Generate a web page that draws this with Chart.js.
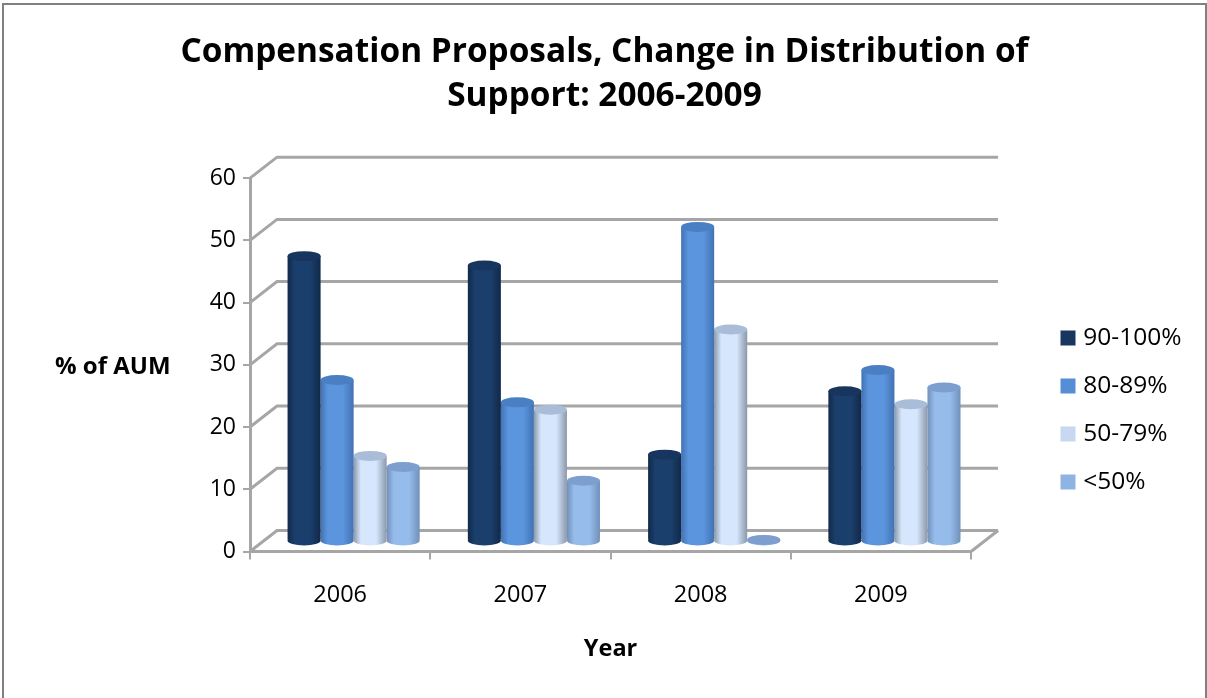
<!DOCTYPE html>
<html>
<head>
<meta charset="utf-8">
<style>
  html, body { margin: 0; padding: 0; background: #fff; }
  canvas { display: block; }
</style>
<script src="https://cdn.jsdelivr.net/npm/chart.js@4"></script>
</head>
<body>
<canvas id="chart" width="1207" height="698"></canvas>
<script>
const years = ['2006', '2007', '2008', '2009'];
const band90 = [45.7, 44.2, 13.8, 24];
const band80 = [25.8, 22.2, 50.4, 27.4];
const band50 = [13.6, 21, 33.9, 21.9];
const bandLow = [11.8, 9.6, 0.1, 24.6];
const yTicks = [0, 10, 20, 30, 40, 50, 60];

const lineGray = '#a6a6a6';
const fontName = '"Open Sans", sans-serif';
// 3D look: how far the back wall and the bars sit from the front axes
const wallX = 27, wallY = -21, barX = 13.5, barY = -11;
const capRy = 5;

// edge, middle and cap colours per series
const shades = [
  { edge: '#11294a', mid: '#1b3f6c', cap: '#17355f', flat: '#17375e' },
  { edge: '#4272b2', mid: '#5b95de', cap: '#4a7fc4', flat: '#558ed5' },
  { edge: '#8b98aa', mid: '#d6e6fd', cap: '#a9bdd8', flat: '#c6d9f1' },
  { edge: '#7090b8', mid: '#96bcec', cap: '#7c9fcf', flat: '#8eb4e3' }
];

function bodyGradient(ctx, x, half, s) {
  const g = ctx.createLinearGradient(x - half, 0, x + half, 0);
  g.addColorStop(0, s.edge);
  g.addColorStop(0.22, s.mid);
  g.addColorStop(0.68, s.mid);
  g.addColorStop(1, s.edge);
  return g;
}

function barFill(c) {
  const chart = c.chart;
  if (!chart.chartArea) return shades[c.datasetIndex].flat;
  const xs = chart.scales.x;
  const w = xs.width / years.length * 0.733 / 4;
  const x = xs.getPixelForValue(c.dataIndex) + (c.datasetIndex - 1.5) * w;
  return bodyGradient(chart.ctx, x, w / 2, shades[c.datasetIndex]);
}

const chartDress = {
  id: 'chartDress',
  afterLayout(chart) {
    // legend and title sit on the full page, not on what the layout left them
    const lg = chart.legend;
    const dx = 1041.5 - lg.left, dy = 61 - lg.top;
    lg.left += dx; lg.right += dx; lg.top += dy; lg.bottom += dy;
    chart.titleBlock.left += 44;
    chart.titleBlock.right += 44;
  },
  beforeDraw(chart) {
    const ctx = chart.ctx;
    ctx.save();
    ctx.strokeStyle = '#808080';
    ctx.lineWidth = 2;
    ctx.strokeRect(3, 4, 1203, 720);
    ctx.fillStyle = '#000';
    ctx.font = 'bold 24px ' + fontName;
    ctx.textBaseline = 'middle';
    ctx.fillText('% of AUM', 55, 367.5);
    ctx.restore();
  },
  beforeDatasetsDraw(chart) {
    const ctx = chart.ctx;
    const { left, right } = chart.chartArea;
    const ys = chart.scales.y;
    ctx.save();
    ctx.strokeStyle = lineGray;
    ctx.lineWidth = 3;
    yTicks.forEach(v => {
      const y = ys.getPixelForValue(v);
      ctx.beginPath();
      ctx.moveTo(left, y);
      ctx.lineTo(left + wallX, y + wallY);
      ctx.lineTo(right + wallX, y + wallY);
      ctx.stroke();
    });
    const y0 = ys.getPixelForValue(0);
    ctx.beginPath();
    ctx.moveTo(right, y0);
    ctx.lineTo(right + wallX, y0 + wallY);
    ctx.stroke();
    ctx.restore();
    ctx.save();
    ctx.translate(barX, barY);
  },
  afterDatasetDraw(chart, args) {
    const ctx = chart.ctx;
    const s = shades[args.index];
    const y0 = chart.scales.y.getPixelForValue(0);
    args.meta.data.forEach(bar => {
      const half = bar.width / 2;
      ctx.save();
      ctx.fillStyle = bodyGradient(ctx, bar.x, half, s);
      ctx.beginPath();
      ctx.ellipse(bar.x, y0, half, capRy, 0, 0, Math.PI * 2);
      ctx.fill();
      ctx.fillStyle = s.cap;
      ctx.beginPath();
      ctx.ellipse(bar.x, bar.y, half, capRy, 0, 0, Math.PI * 2);
      ctx.fill();
      ctx.restore();
    });
  },
  afterDatasetsDraw(chart) {
    chart.ctx.restore();
  }
};

new Chart(document.getElementById('chart'), {
  type: 'bar',
  plugins: [chartDress],
  data: {
    labels: years,
    datasets: [
      { label: '90-100%', data: band90 },
      { label: '80-89%', data: band80 },
      { label: '50-79%', data: band50 },
      { label: '<50%', data: bandLow }
    ].map(d => ({ ...d, backgroundColor: barFill, borderWidth: 0, clip: false }))
  },
  options: {
    responsive: false,
    animation: false,
    categoryPercentage: 0.733,
    barPercentage: 1,
    layout: { padding: { left: 0, top: 0, right: 86, bottom: 0 } },
    plugins: {
      tooltip: { enabled: false },
      title: {
        display: true,
        text: ['Compensation Proposals, Change in Distribution of', 'Support: 2006-2009'],
        color: '#000',
        font: { family: fontName, size: 33.4, weight: 'bold', lineHeight: 1.32 },
        padding: { top: 30, bottom: 60 }
      },
      legend: {
        position: 'right',
        labels: {
          usePointStyle: true,
          pointStyle: 'rect',
          boxWidth: 6,
          boxHeight: 15,
          padding: 23.5,
          color: '#000',
          font: { family: fontName, size: 24.5 },
          generateLabels(chart) {
            return chart.data.datasets.map((d, i) => ({
              text: d.label,
              fillStyle: shades[i].flat,
              strokeStyle: shades[i].flat,
              lineWidth: 0,
              pointStyle: 'rect',
              datasetIndex: i
            }));
          }
        }
      }
    },
    scales: {
      x: {
        afterFit(scale) { scale.height = 146.5; },
        grid: { offset: true, drawOnChartArea: false, color: lineGray, lineWidth: 2, tickLength: 8 },
        border: { color: lineGray, width: 3 },
        ticks: { color: '#000', padding: 22, font: { family: fontName, size: 23.5 }, maxRotation: 0 },
        title: {
          display: true,
          text: 'Year',
          color: '#000',
          font: { family: fontName, size: 23.5, weight: 'bold' },
          padding: { top: 0, bottom: 35 }
        }
      },
      y: {
        min: 0,
        max: 60,
        afterFit(scale) { scale.width = 250; },
        grid: { drawOnChartArea: false, color: lineGray, lineWidth: 2, tickLength: 7 },
        border: { color: lineGray, width: 3 },
        ticks: { stepSize: 10, color: '#000', padding: 7, font: { family: fontName, size: 23 } }
      }
    }
  }
});
</script>
</body>
</html>
